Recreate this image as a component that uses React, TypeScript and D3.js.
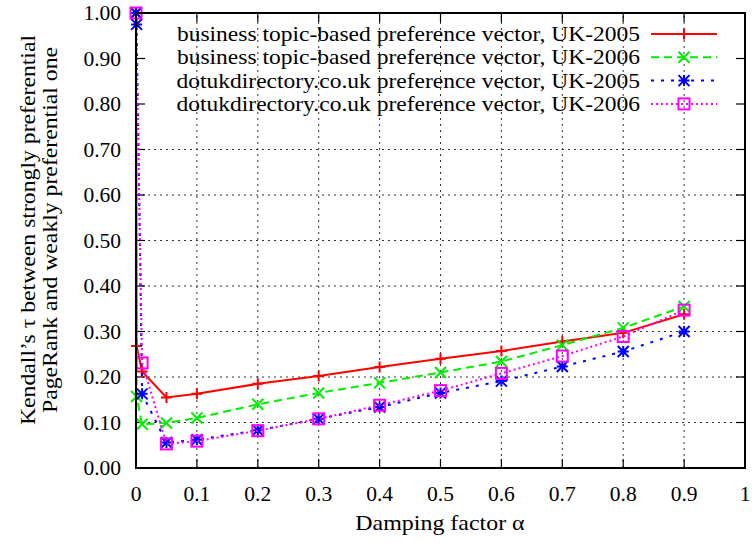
import * as d3 from "d3";

const W = 752;
const H = 543;

// alpha values where each series was sampled
const alphaA = [0, 0.001, 0.01, 0.05, 0.1, 0.2, 0.3, 0.4, 0.5, 0.6, 0.7, 0.8, 0.9];
const alphaB = [0, 0.01, 0.05, 0.1, 0.2, 0.3, 0.4, 0.5, 0.6, 0.7, 0.8, 0.9];

const bizUK2005 = [1.0, 0.268, 0.212, 0.155, 0.163, 0.185, 0.202, 0.222, 0.24, 0.257, 0.278, 0.297, 0.338];
const bizUK2006 = [1.0, 0.157, 0.096, 0.099, 0.11, 0.14, 0.165, 0.187, 0.21, 0.234, 0.27, 0.308, 0.355];
const dotukUK2005 = [1.0, 0.975, 0.163, 0.056, 0.062, 0.083, 0.108, 0.134, 0.165, 0.191, 0.223, 0.256, 0.3];
const dotukUK2006 = [1.0, 0.231, 0.053, 0.059, 0.082, 0.108, 0.138, 0.17, 0.208, 0.246, 0.289, 0.347];

const xTicks = [0, 0.1, 0.2, 0.3, 0.4, 0.5, 0.6, 0.7, 0.8, 0.9, 1];
const yTicks = [0, 0.1, 0.2, 0.3, 0.4, 0.5, 0.6, 0.7, 0.8, 0.9, 1];

const series = [
    { name: "business topic-based preference vector, UK-2005", xs: alphaA, ys: bizUK2005, color: "#ff0000", dash: null, marker: "plus" },
    { name: "business topic-based preference vector, UK-2006", xs: alphaA, ys: bizUK2006, color: "#00ee00", dash: "8,5", marker: "cross" },
    { name: "dotukdirectory.co.uk preference vector, UK-2005", xs: alphaA, ys: dotukUK2005, color: "#0000ff", dash: "3,7", marker: "star" },
    { name: "dotukdirectory.co.uk preference vector, UK-2006", xs: alphaB, ys: dotukUK2006, color: "#ff00ff", dash: "2,3", marker: "square" },
];

const FONT = "'Liberation Serif', 'DejaVu Serif', serif";

function Marker({ kind, x, y, color }) {
    const s = 5.5;
    if (kind === "plus") {
        return <path d={`M${x - s},${y}H${x + s}M${x},${y - s}V${y + s}`} stroke={color} strokeWidth={2} />;
    }
    if (kind === "cross") {
        return <path d={`M${x - s},${y - s}L${x + s},${y + s}M${x - s},${y + s}L${x + s},${y - s}`} stroke={color} strokeWidth={2} />;
    }
    if (kind === "star") {
        return (
            <path
                d={`M${x - s},${y}H${x + s}M${x},${y - s}V${y + s}M${x - s},${y - s}L${x + s},${y + s}M${x - s},${y + s}L${x + s},${y - s}`}
                stroke={color}
                strokeWidth={2}
            />
        );
    }
    return <rect x={x - s} y={y - s} width={2 * s} height={2 * s} fill="none" stroke={color} strokeWidth={2} />;
}

export default function App() {
    const x = d3.scaleLinear().domain([0, 1]).range([136, 745]);
    const y = d3.scaleLinear().domain([0, 1]).range([468, 13]);
    const [x0, x1] = x.range();
    const [y0, y1] = y.range();
    const tick = 9;
    // the original text is a bit wider than Liberation Serif at the same height
    const stretch = 1.12;

    const line = d3.line<[number, number]>().x(d => x(d[0])).y(d => y(d[1]));

    return (
        <svg width={W} height={H} style={{ position: "absolute", left: 0, top: 0, background: "white" }} fontFamily={FONT}>
            {/* grid */}
            <g stroke="#000" strokeWidth={1} strokeDasharray="2,4" opacity={0.8}>
                {xTicks.filter(t => t > 0 && t < 1).map(t => (
                    <line key={`gx${t}`} x1={x(t)} x2={x(t)} y1={y0} y2={y1} />
                ))}
                {yTicks.filter(t => t > 0 && t < 0.75).map(t => (
                    <line key={`gy${t}`} x1={x0} x2={x1} y1={y(t)} y2={y(t)} />
                ))}
            </g>

            {/* ticks, mirrored on all sides */}
            <g stroke="#000" strokeWidth={1.2}>
                {xTicks.map(t => (
                    <g key={`tx${t}`}>
                        <line x1={x(t)} x2={x(t)} y1={y0} y2={y0 - tick} />
                        <line x1={x(t)} x2={x(t)} y1={y1} y2={y1 + tick} />
                    </g>
                ))}
                {yTicks.map(t => (
                    <g key={`ty${t}`}>
                        <line x1={x0} x2={x0 + tick} y1={y(t)} y2={y(t)} />
                        <line x1={x1} x2={x1 - tick} y1={y(t)} y2={y(t)} />
                    </g>
                ))}
            </g>

            {/* tick labels */}
            <g fontSize={21.5} fill="#000">
                {yTicks.map(t => (
                    <text key={`ly${t}`} x={x0 - 15} y={y(t)} textAnchor="end" dominantBaseline="central">
                        {d3.format(".2f")(t)}
                    </text>
                ))}
                {xTicks.map(t => (
                    <text key={`lx${t}`} x={x(t)} y={y0 + 33} textAnchor="middle">
                        {String(t)}
                    </text>
                ))}
            </g>

            {/* axis titles */}
            <text transform={`translate(440, 530) scale(${stretch + 0.02}, 1)`} fontSize={21} textAnchor="middle">Damping factor α</text>
            <g transform={`translate(28, 230) rotate(-90) scale(${stretch + 0.01}, 1)`} fontSize={21}>
                <text x={0} y={0} textAnchor="middle" dominantBaseline="central">Kendall’s τ between strongly preferential</text>
                <text x={0} y={22} textAnchor="middle" dominantBaseline="central">PageRank and weakly preferential one</text>
            </g>

            {/* series */}
            {series.map(s => {
                const pts: [number, number][] = s.xs.map((a, i) => [a, s.ys[i]]);
                return (
                    <g key={s.name}>
                        <path d={line(pts) || ""} fill="none" stroke={s.color} strokeWidth={2} strokeDasharray={s.dash || undefined} />
                        {pts.map((p, i) => (
                            <Marker key={i} kind={s.marker} x={x(p[0])} y={y(p[1])} color={s.color} />
                        ))}
                    </g>
                );
            })}

            {/* legend */}
            <g fontSize={21}>
                {series.map((s, i) => {
                    const ly = 34 + i * 23.3;
                    return (
                        <g key={`leg${i}`}>
                            <text transform={`translate(640, ${ly}) scale(${stretch}, 1)`} textAnchor="end" dominantBaseline="central">{s.name}</text>
                            <line x1={651} x2={717} y1={ly} y2={ly} stroke={s.color} strokeWidth={2} strokeDasharray={s.dash || undefined} />
                            <Marker kind={s.marker} x={684} y={ly} color={s.color} />
                        </g>
                    );
                })}
            </g>

            {/* frame */}
            <rect x={x0} y={y1} width={x1 - x0} height={y0 - y1} fill="none" stroke="#000" strokeWidth={2} />
        </svg>
    );
}
